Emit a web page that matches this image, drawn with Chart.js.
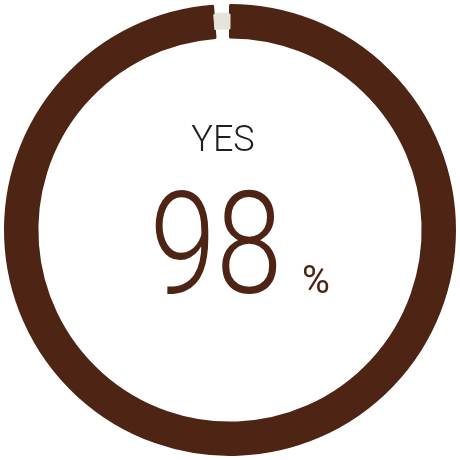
<!DOCTYPE html>
<html>
<head>
<meta charset="utf-8">
<script src="https://cdn.jsdelivr.net/npm/chart.js@4"></script>
<style>
  html, body { margin:0; padding:0; background:#fff; }
  #wrap { width:460px; height:460px; position:relative; }
</style>
</head>
<body>
<div id="wrap"><canvas id="donut"></canvas></div>
<script>
// ===== Data =====
const labels = ['YES', 'NO'];
const values = [98.8, 1.2];
const centerLabel = 'YES';
const centerValue = '98';

// ===== Colors =====
const BROWN = '#4e2414';
const GREY = '#e6e2dc';

// ring pieces: outer edge / grey track / inner edge
const ring = (weight, restColor) => ({
  data: values,
  weight,
  backgroundColor: [BROWN, restColor],
  borderColor: [BROWN, restColor],
  borderWidth: [2, restColor === 'transparent' ? 0 : 1]
});

// ===== Center text =====
const centerText = {
  id: 'centerText',
  afterDraw(chart){
    const { ctx, chartArea } = chart;
    const cx = (chartArea.left + chartArea.right) / 2;
    const cy = (chartArea.top + chartArea.bottom) / 2;
    ctx.save();
    ctx.textAlign = 'center';
    ctx.textBaseline = 'alphabetic';
    ctx.fillStyle = '#231f20';
    ctx.font = '300 36px Roboto, "Noto Sans", sans-serif';
    ctx.fillText(centerLabel, cx - 7, cy - 79);

    ctx.fillStyle = BROWN;
    ctx.save();
    ctx.translate(cx - 14, cy + 63);
    ctx.scale(0.84, 1);
    ctx.font = '300 142px Roboto, "Noto Sans", sans-serif';
    ctx.fillText(centerValue, 0, 0);
    ctx.restore();

    ctx.font = '400 38px Roboto, "Noto Sans", sans-serif';
    ctx.textAlign = 'left';
    ctx.fillText('%', cx + 72, cy + 63);
    ctx.restore();
  }
};

new Chart(document.getElementById('donut'), {
  type: 'doughnut',
  data: {
    labels,
    datasets: [ring(8, 'transparent'), ring(16, GREY), ring(8.5, 'transparent')]
  },
  options: {
    responsive: true,
    maintainAspectRatio: false,
    animation: false,
    cutout: '85.6%',
    layout: { padding: 4 },
    events: [],
    plugins: { legend: { display: false }, tooltip: { enabled: false } }
  },
  plugins: [centerText]
});
</script>
</body>
</html>
